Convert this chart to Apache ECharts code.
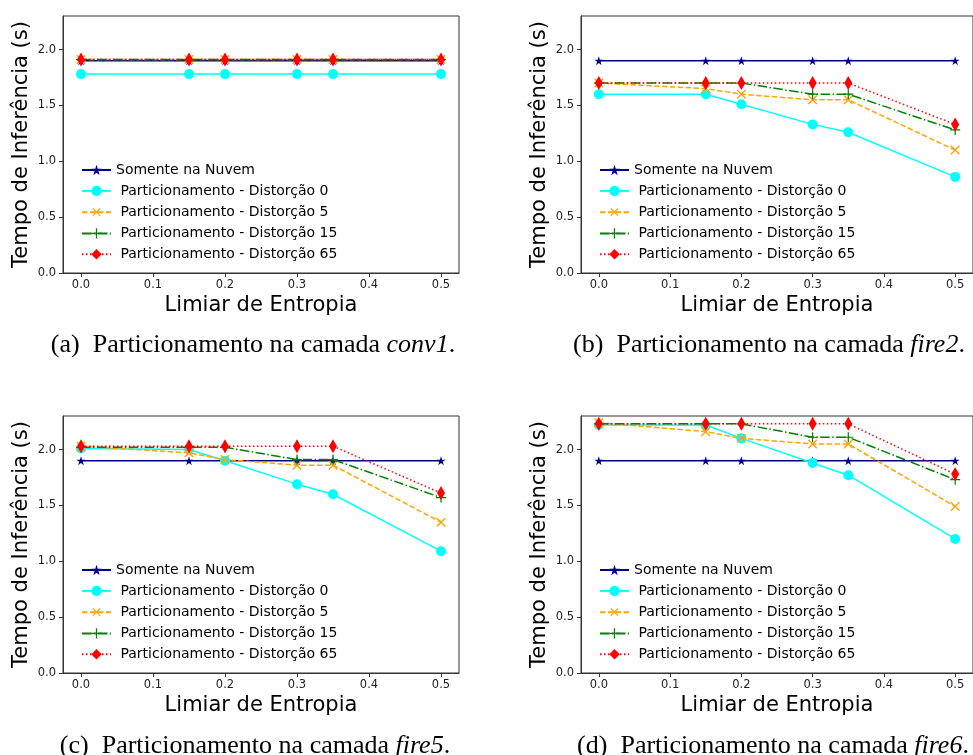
<!DOCTYPE html>
<html>
<head>
<meta charset="utf-8">
<script src="https://cdn.jsdelivr.net/npm/echarts@6/dist/echarts.min.js"></script>
<style>
  html, body { margin: 0; padding: 0; background: #fff; }
  #chart { width: 973px; height: 755px; }
</style>
</head>
<body>
<div id="chart"></div>
<script>
// limiares de entropia (eixo x)
const limiares = [0.0, 0.15, 0.2, 0.3, 0.35, 0.5]
const xTicks = [0, 0.1, 0.2, 0.3, 0.4, 0.5]
const yTicks = [0, 0.5, 1.0, 1.5, 2.0]

const nomes = [
  'Somente na Nuvem',
  ' Particionamento - Distorção 0',
  ' Particionamento - Distorção 5',
  ' Particionamento - Distorção 15',
  ' Particionamento - Distorção 65'
]

// (a) conv1
const conv1Nuvem = [1.90, 1.90, 1.90, 1.90, 1.90, 1.90]
const conv1D0 = [1.78, 1.78, 1.78, 1.78, 1.78, 1.78]
const conv1D5 = [1.91, 1.91, 1.91, 1.91, 1.91, 1.91]
const conv1D15 = [1.91, 1.91, 1.91, 1.91, 1.91, 1.91]
const conv1D65 = [1.91, 1.91, 1.91, 1.91, 1.91, 1.91]

// (b) fire2
const fire2Nuvem = [1.90, 1.90, 1.90, 1.90, 1.90, 1.90]
const fire2D0 = [1.60, 1.60, 1.51, 1.33, 1.26, 0.86]
const fire2D5 = [1.70, 1.65, 1.60, 1.55, 1.55, 1.10]
const fire2D15 = [1.70, 1.70, 1.70, 1.60, 1.60, 1.28]
const fire2D65 = [1.70, 1.70, 1.70, 1.70, 1.70, 1.33]

// (c) fire5
const fire5Nuvem = [1.90, 1.90, 1.90, 1.90, 1.90, 1.90]
const fire5D0 = [2.01, 2.00, 1.90, 1.69, 1.60, 1.09]
const fire5D5 = [2.03, 1.97, 1.91, 1.86, 1.86, 1.35]
const fire5D15 = [2.02, 2.02, 2.02, 1.91, 1.91, 1.57]
const fire5D65 = [2.03, 2.03, 2.03, 2.03, 2.03, 1.61]

// (d) fire6
const fire6Nuvem = [1.90, 1.90, 1.90, 1.90, 1.90, 1.90]
const fire6D0 = [2.22, 2.22, 2.10, 1.88, 1.77, 1.20]
const fire6D5 = [2.24, 2.16, 2.10, 2.05, 2.05, 1.49]
const fire6D15 = [2.23, 2.23, 2.23, 2.11, 2.11, 1.73]
const fire6D65 = [2.23, 2.23, 2.23, 2.23, 2.23, 1.78]

const paineis = [
  { letra: '(a)', camada: 'conv1', series: [conv1Nuvem, conv1D0, conv1D5, conv1D15, conv1D65] },
  { letra: '(b)', camada: 'fire2', series: [fire2Nuvem, fire2D0, fire2D5, fire2D15, fire2D65] },
  { letra: '(c)', camada: 'fire5', series: [fire5Nuvem, fire5D0, fire5D5, fire5D15, fire5D65] },
  { letra: '(d)', camada: 'fire6', series: [fire6Nuvem, fire6D0, fire6D5, fire6D15, fire6D65] }
]

const starPath = 'path://M10,0L12.25,6.91L19.51,6.91L13.63,11.18L15.88,18.09L10,13.82L4.12,18.09L6.37,11.18L0.49,6.91L7.75,6.91Z'
const plusPath = 'path://M4.4,0H5.6V4.4H10V5.6H5.6V10H4.4V5.6H0V4.4H4.4Z'

const estilos = [
  { color: '#000080', symbol: starPath, symbolSize: 9, type: 'solid', rotate: 0 },
  { color: '#00FFFF', symbol: 'circle', symbolSize: 10, type: 'solid', rotate: 0 },
  { color: '#FFA500', symbol: plusPath, symbolSize: 12, type: [5.5, 2.4], rotate: 45 },
  { color: '#008000', symbol: plusPath, symbolSize: 10, type: [9.6, 2.4, 1.5, 2.4], rotate: 0 },
  { color: '#FF0000', symbol: 'diamond', symbolSize: [8, 14], type: [1.5, 2.5], rotate: 0 }
]

// posicao de cada painel
const lefts = [63, 581, 63, 581]
const tops = [16, 16, 416, 416]
const captionPos = [[253, 345], [769, 345], [255, 746], [773, 746]]

const font = 'DejaVu Sans'
const eixoCor = '#333'

const chart = echarts.init(document.getElementById('chart'), null, { renderer: 'canvas' })

const grid = []
const xAxis = []
const yAxis = []
const legend = []
const series = []
const graphic = []

paineis.forEach((p, i) => {
  grid.push({
    left: lefts[i],
    top: tops[i],
    width: 396,
    height: 257,
    show: true,
    borderColor: eixoCor,
    borderWidth: 1
  })
  xAxis.push({
    gridIndex: i,
    type: 'value',
    min: -0.025,
    max: 0.525,
    name: 'Limiar de Entropia',
    nameLocation: 'middle',
    nameGap: 22,
    nameTextStyle: { fontFamily: font, fontSize: 21, color: '#000' },
    axisLine: { show: true, onZero: false, lineStyle: { color: eixoCor } },
    axisTick: { show: true, length: 4, customValues: xTicks, lineStyle: { color: eixoCor } },
    axisLabel: {
      customValues: xTicks,
      formatter: v => v.toFixed(1),
      fontFamily: font,
      fontSize: 11.5,
      color: '#222',
      margin: 6
    },
    splitLine: { show: false }
  })
  yAxis.push({
    gridIndex: i,
    type: 'value',
    min: 0,
    max: 2.3,
    name: 'Tempo de Inferência (s)',
    nameLocation: 'middle',
    nameGap: 31,
    nameTextStyle: { fontFamily: font, fontSize: 21, color: '#000' },
    axisLine: { show: true, onZero: false, lineStyle: { color: eixoCor } },
    axisTick: { show: true, length: 4, customValues: yTicks, lineStyle: { color: eixoCor } },
    axisLabel: {
      customValues: yTicks,
      formatter: v => v.toFixed(1),
      fontFamily: font,
      fontSize: 11.5,
      color: '#222',
      margin: 7
    },
    splitLine: { show: false }
  })
  legend.push({
    orient: 'vertical',
    left: lefts[i] + 13,
    top: tops[i] + 142,
    itemWidth: 29,
    itemHeight: 13,
    itemGap: 6.9,
    selectedMode: false,
    data: nomes,
    textStyle: { fontFamily: font, fontSize: 14, color: '#000' }
  })
  p.series.forEach((vals, k) => {
    const e = estilos[k]
    series.push({
      name: nomes[k],
      type: 'line',
      xAxisIndex: i,
      yAxisIndex: i,
      data: limiares.map((x, j) => [x, vals[j]]),
      symbol: e.symbol,
      symbolSize: e.symbolSize,
      symbolRotate: e.rotate,
      showAllSymbol: true,
      animation: false,
      itemStyle: { color: e.color, opacity: 1 },
      lineStyle: { color: e.color, width: 1.5, type: e.type },
      emphasis: { disabled: true },
      z: 2 + k
    })
  })
  graphic.push({
    type: 'text',
    x: captionPos[i][0],
    y: captionPos[i][1],
    style: {
      text: p.letra + '  Particionamento na camada {i|' + p.camada + '}.',
      fontFamily: 'Liberation Serif',
      fontSize: 26,
      fill: '#000',
      align: 'center',
      verticalAlign: 'middle',
      rich: {
        i: { fontFamily: 'Liberation Serif', fontSize: 26, fontStyle: 'italic', fill: '#000' }
      }
    }
  })
})

chart.setOption({
  animation: false,
  backgroundColor: '#fff',
  grid,
  xAxis,
  yAxis,
  legend,
  series,
  graphic
})
</script>
</body>
</html>
